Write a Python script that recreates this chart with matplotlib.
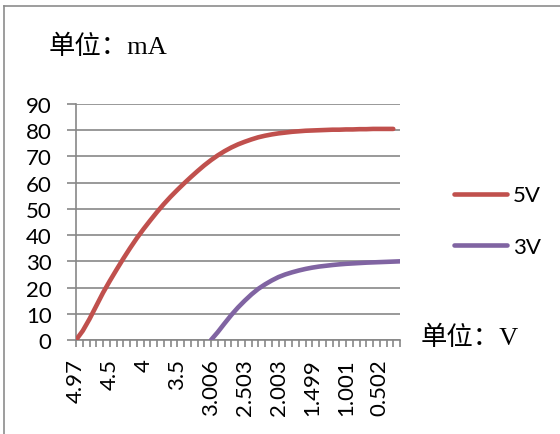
import matplotlib
matplotlib.use("Agg")
import matplotlib.pyplot as plt
from matplotlib.lines import Line2D

# voltage categories (labels shown every 5th, like the Excel chart)
volts = ['4.97', '4.9', '4.8', '4.7', '4.6', '4.5', '4.4', '4.3', '4.2', '4.1',
         '4', '3.9', '3.8', '3.7', '3.6', '3.5', '3.4', '3.3', '3.2', '3.1',
         '3.006', '2.9', '2.8', '2.7', '2.6', '2.503', '2.4', '2.3', '2.2', '2.1',
         '2.003', '1.9', '1.8', '1.7', '1.6', '1.499', '1.4', '1.3', '1.2', '1.1',
         '1.001', '0.9', '0.8', '0.7', '0.6', '0.502', '0.4', '0.3', '0.2']

# 5V series (mA), starts at first category
i_5v = [0, 3.5, 8, 13, 18, 22.5, 26.8, 31, 35, 38.8,
        42.3, 45.6, 48.8, 51.8, 54.6, 57.2, 59.7, 62.1, 64.4, 66.6,
        68.6, 70.4, 72, 73.4, 74.6, 75.6, 76.5, 77.3, 77.9, 78.4,
        78.8, 79.1, 79.4, 79.6, 79.8, 79.9, 80, 80.1, 80.2, 80.2,
        80.3, 80.3, 80.4, 80.4, 80.5, 80.5, 80.5, 80.5]

# 3V series (mA), starts at 3.006 category
start_3v = 20
i_3v = [0, 3, 6.3, 9.5, 12.4, 15, 17.4, 19.5, 21.2, 22.7,
        24, 25, 25.8, 26.5, 27.1, 27.6, 28, 28.3, 28.6, 28.85,
        29.05, 29.2, 29.35, 29.5, 29.6, 29.7, 29.8, 29.9, 30]

red = '#C0504D'
purple = '#8064A2'
grid_c = '#878787'
lab_font = ['Lato', 'DejaVu Sans']
cjk_font = ['Liberation Serif', 'Noto Sans CJK SC']

fig = plt.figure(figsize=(5.6, 4.35), dpi=100)
ax = fig.add_axes([76/560, 1-341/435, 324/560, 236/435])

x5 = list(range(len(i_5v)))
x3 = list(range(start_3v, start_3v + len(i_3v)))
ax.plot(x5, i_5v, color=red, lw=3.3, solid_capstyle='round', solid_joinstyle='round', zorder=3)
ax.plot(x3, i_3v, color=purple, lw=3.3, solid_capstyle='round', solid_joinstyle='round', zorder=3)

ax.set_xlim(0, len(volts)-1)
ax.set_ylim(0, 90)
ax.set_yticks(range(0, 91, 10))
ax.yaxis.grid(True, color=grid_c, lw=1.2)
ax.set_axisbelow(True)

ax.set_xticks(range(len(volts)))
ax.set_xticklabels([v if k % 5 == 0 else '' for k, v in enumerate(volts)],
                   rotation=90, fontsize=16, family=lab_font)
for t in ax.get_yticklabels():
    t.set_fontsize(16)
    t.set_family(lab_font)

for s in ['top', 'right']:
    ax.spines[s].set_visible(False)
for s in ['left', 'bottom']:
    ax.spines[s].set_color(grid_c)
    ax.spines[s].set_linewidth(1.2)
ax.tick_params(axis='both', colors=grid_c, labelcolor='black', width=1.2)
ax.tick_params(axis='y', length=6.5, pad=11)
ax.tick_params(axis='x', length=5, pad=8)

# legend, Excel style at the right
leg = ax.legend([Line2D([], [], color=red, lw=3.3, solid_capstyle='round'),
                 Line2D([], [], color=purple, lw=3.3, solid_capstyle='round')],
                ['5V', '3V'], loc='center left', bbox_to_anchor=(434/560, 1-222/435),
                bbox_transform=fig.transFigure, frameon=False, handlelength=2.4,
                handletextpad=0.25, labelspacing=1.4, prop={'family': lab_font, 'size': 16})

fig.text(49/560, 1-47/435, '单位：mA', fontsize=19, family=cjk_font, va='center')
fig.text(421/560, 1-338/435, '单位：V', fontsize=19, family=cjk_font, va='center')

# chart area border (left and top visible)
fig.add_artist(Line2D([4/560, 4/560], [0, 1-7/435], transform=fig.transFigure, color='#8c8c8c', lw=1.2))
fig.add_artist(Line2D([4/560, 1], [1-7/435, 1-7/435], transform=fig.transFigure, color='#8c8c8c', lw=1.2))

fig.savefig('out.png', dpi=100)
